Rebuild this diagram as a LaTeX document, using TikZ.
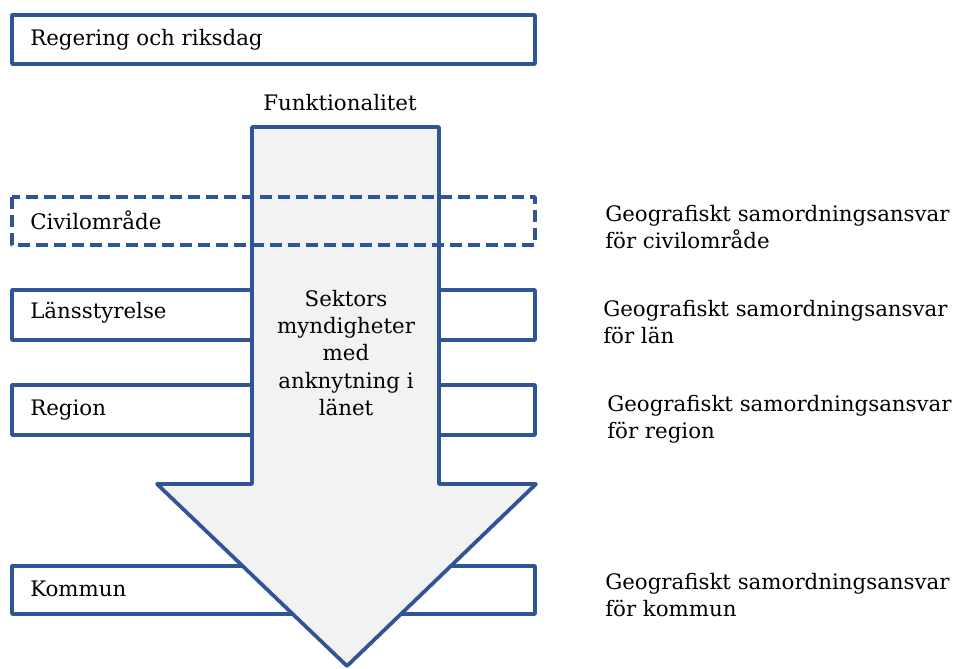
\documentclass[tikz,border=0pt]{standalone}
\usepackage{fontspec}
\setmainfont{DejaVu Serif}
\definecolor{ramblue}{RGB}{47,85,151}
\definecolor{pilgray}{RGB}{242,242,242}
\tikzset{
  ram/.style={draw=ramblue, line width=2.8pt, line join=round},
  streckram/.style={ram, dash pattern=on 9pt off 4.5pt},
  etikett/.style={anchor=west, inner sep=0pt, font=\fontsize{16}{19}\selectfont},
  ansvar/.style={anchor=north west, inner sep=0pt, align=left, font=\fontsize{16}{20.3}\selectfont},
}
\begin{document}
\begin{tikzpicture}[x=0.75pt, y=-0.75pt]
\useasboundingbox (0,0) rectangle (957,668);

% nivaer
\draw[ram] (12,15) rectangle (535,64);
\node[etikett] (regering) at (30,40) {Regering och riksdag};

\draw[ram] (12,290) rectangle (535,340);
\node[etikett] (lan) at (30,313) {Länsstyrelse};

\draw[ram] (12,385) rectangle (535,435);
\node[etikett] (region) at (30,410) {Region};

\draw[ram] (12,566) rectangle (535,614);
\node[etikett] (kommun) at (30,589) {Kommun};

% pil
\node[inner sep=0pt, font=\fontsize{16}{19}\selectfont] (funk) at (340,103) {Funktionalitet};
\draw[ram, fill=pilgray] (252,127) -- (439,127) -- (439,484) -- (536,484)
   -- (347,666) -- (157,484) -- (252,484) -- cycle;
\node[inner sep=0pt, align=center, font=\fontsize{16}{20.6}\selectfont] (sektor) at (346,353)
   {Sektors\\myndigheter\\med\\anknytning i\\länet};

\draw[streckram] (12,197) rectangle (535,245);
\node[etikett] (civil) at (30,220) {Civilområde};

% ansvar
\node[ansvar] (ansvciv) at (605,205) {Geografiskt samordningsansvar\\för civilområde};
\node[ansvar] (ansvlan) at (603,300) {Geografiskt samordningsansvar\\för län};
\node[ansvar] (ansvreg) at (607,395) {Geografiskt samordningsansvar\\för region};
\node[ansvar] (ansvkom) at (605,573) {Geografiskt samordningsansvar\\för kommun};

\end{tikzpicture}
\end{document}
